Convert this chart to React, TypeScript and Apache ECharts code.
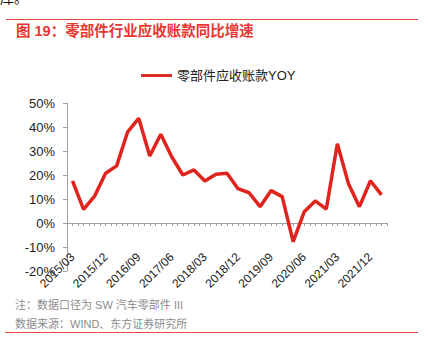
import React, { useEffect, useRef } from "react";
import * as echarts from "echarts";

const categories = [
  "2015/03", "2015/06", "2015/09", "2015/12",
  "2016/03", "2016/06", "2016/09", "2016/12",
  "2017/03", "2017/06", "2017/09", "2017/12",
  "2018/03", "2018/06", "2018/09", "2018/12",
  "2019/03", "2019/06", "2019/09", "2019/12",
  "2020/03", "2020/06", "2020/09", "2020/12",
  "2021/03", "2021/06", "2021/09", "2021/12",
  "2022/03",
];

const yoyValues = [
  17.6, 5.7, 11.2, 20.7,
  23.8, 38.0, 43.6, 27.9,
  37.0, 27.5, 20.0, 22.1,
  17.5, 20.3, 20.7, 14.3,
  12.6, 6.8, 13.5, 11.0,
  -7.8, 4.7, 9.2, 5.8,
  33.0, 16.5, 6.8, 17.6,
  11.7,
];

const seriesName = "零部件应收账款YOY";
const titleText = "图 19：零部件行业应收账款同比增速";
const noteText = "注：数据口径为 SW 汽车零部件 III";
const sourceText = "数据来源：WIND、东方证券研究所";
const yTicks = { min: -20, max: 50, interval: 10 };

const tickCategories = new Array(categories.length * 2).fill("");

const FONT = '"Liberation Sans", Arial, "Noto Sans CJK SC", sans-serif';
const RED = "#e0231c";
const AXIS_GRAY = "#a0a0a0";

export default function App() {
  const ref = useRef<HTMLDivElement>(null);
  useEffect(() => {
    if (!ref.current) return;
    const chart = echarts.init(ref.current, null, { renderer: "svg" });
    chart.setOption({
      animation: false,
      backgroundColor: "#ffffff",
      textStyle: { fontFamily: FONT },
      graphic: [
        { type: "text", left: 0, top: -9, style: { text: "库。", fontSize: 14, fill: "#111", fontFamily: FONT } },
        { type: "line", shape: { x1: 6, y1: 19.5, x2: 418, y2: 19.5 }, style: { stroke: "#e0483e", lineWidth: 1 } },
        { type: "text", left: 16, top: 24, style: { text: titleText, fontSize: 14.5, fontWeight: "bold", fill: "#e8372f", fontFamily: FONT } },
        { type: "text", left: 15, top: 299, style: { text: noteText, fontSize: 11, fill: "#8c8c8c", fontFamily: FONT } },
        { type: "text", left: 15, top: 318, style: { text: sourceText, fontSize: 11, fill: "#8c8c8c", fontFamily: FONT } },
        { type: "line", shape: { x1: 5, y1: 332.5, x2: 418, y2: 332.5 }, style: { stroke: "#e0483e", lineWidth: 1 } },
      ],
      legend: {
        left: 136,
        top: 64,
        itemWidth: 31,
        itemHeight: 14,
        itemGap: 10,
        textStyle: { fontSize: 13, color: "#222", fontFamily: FONT },
        data: [{ name: seriesName, icon: "path://M0,6 L33,6 L33,9 L0,9 Z" }],
      },
      grid: { left: 67, right: 41, top: 103, bottom: 82, containLabel: false },
      xAxis: [
        {
          type: "category",
          data: categories,
          boundaryGap: true,
          axisLine: { onZero: true, onZeroAxisIndex: 0, lineStyle: { color: AXIS_GRAY, width: 1 } },
          axisTick: { show: false },
          axisLabel: {
            interval: 2,
            rotate: 45,
            fontSize: 12,
            color: "#222",
            margin: -16,
            fontFamily: FONT,
          },
          splitLine: { show: false },
        },
        {
          type: "category",
          data: tickCategories,
          boundaryGap: true,
          position: "bottom",
          axisLine: { show: false, onZero: true, onZeroAxisIndex: 0 },
          axisTick: { show: true, interval: 0, length: 3, lineStyle: { color: AXIS_GRAY } },
          axisLabel: { show: false },
          splitLine: { show: false },
        },
      ],
      yAxis: {
        type: "value",
        min: yTicks.min,
        max: yTicks.max,
        interval: yTicks.interval,
        axisLine: { show: true, lineStyle: { color: AXIS_GRAY, width: 1 } },
        axisTick: { show: true, length: 4, lineStyle: { color: AXIS_GRAY } },
        splitLine: { show: false },
        axisLabel: {
          formatter: "{value}%",
          fontSize: 13,
          color: "#222",
          margin: 12,
          fontFamily: FONT,
        },
      },
      series: [
        {
          name: seriesName,
          type: "line",
          xAxisIndex: 0,
          data: yoyValues,
          symbol: "none",
          lineStyle: { color: RED, width: 3.5 },
          itemStyle: { color: RED },
        },
      ],
    });
    return () => chart.dispose();
  }, []);
  return (
    <div
      ref={ref}
      style={{ position: "fixed", left: 0, top: 0, width: 428, height: 353, background: "#fff" }}
    />
  );
}
